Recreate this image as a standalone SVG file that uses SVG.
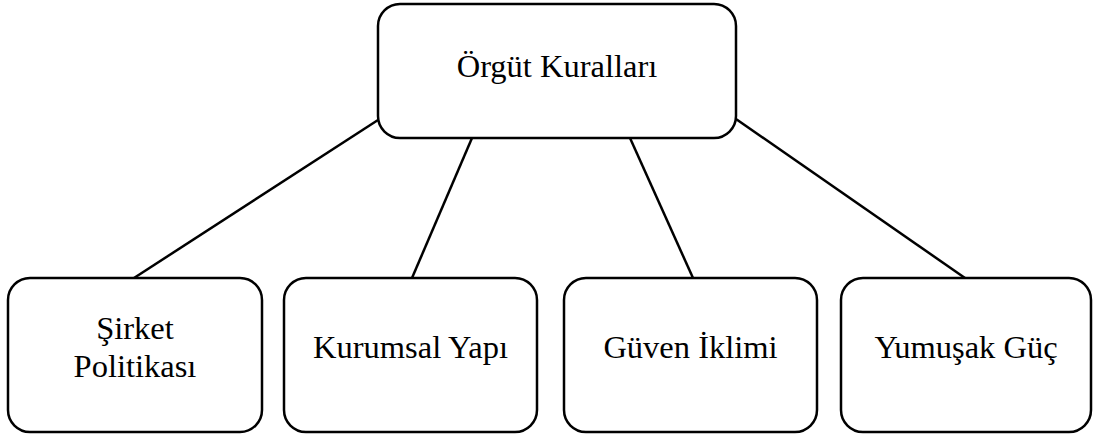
<svg xmlns="http://www.w3.org/2000/svg" width="1096" height="437" viewBox="0 0 1096 437">
  <style>
    .box { fill: #ffffff; stroke: #000000; stroke-width: 2.5; }
    .link { stroke: #000000; stroke-width: 2.5; fill: none; }
    .label { font-family: "Liberation Serif", "Times New Roman", "DejaVu Serif", serif; font-size: 32.5px; fill: #000000; text-anchor: middle; }
  </style>
  <rect width="1096" height="437" fill="#ffffff"/>

  <!-- connectors from the root to each child -->
  <g id="connectors">
    <line class="link" x1="378" y1="120" x2="134" y2="278"/>
    <line class="link" x1="472" y1="138" x2="412" y2="278"/>
    <line class="link" x1="630" y1="138" x2="693" y2="278"/>
    <line class="link" x1="736" y1="119" x2="965" y2="278"/>
  </g>

  <g id="orgut-kurallari">
    <rect class="box" x="378" y="4" width="358" height="134" rx="22" ry="22"/>
    <text class="label" x="557" y="77">Örgüt Kuralları</text>
  </g>

  <g id="sirket-politikasi">
    <rect class="box" x="8" y="278" width="254" height="154" rx="22" ry="22"/>
    <text class="label" x="135" y="339">Şirket</text>
    <text class="label" x="135" y="377">Politikası</text>
  </g>

  <g id="kurumsal-yapi">
    <rect class="box" x="284" y="278" width="253" height="154" rx="22" ry="22"/>
    <text class="label" x="410.5" y="358">Kurumsal Yapı</text>
  </g>

  <g id="guven-iklimi">
    <rect class="box" x="564" y="278" width="253" height="154" rx="22" ry="22"/>
    <text class="label" x="690.5" y="358">Güven İklimi</text>
  </g>

  <g id="yumusak-guc">
    <rect class="box" x="841" y="278" width="250" height="154" rx="22" ry="22"/>
    <text class="label" x="966" y="358">Yumuşak Güç</text>
  </g>
</svg>
